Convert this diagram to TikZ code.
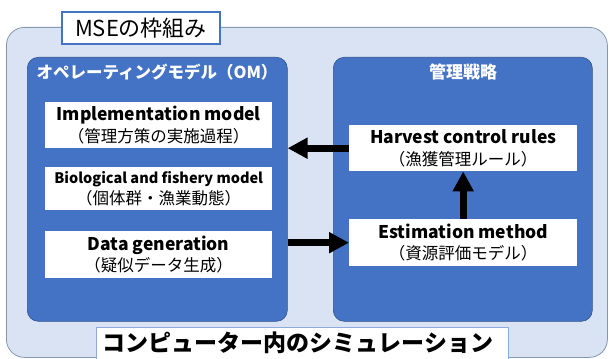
\documentclass[tikz,border=0pt]{standalone}
\usepackage{fontspec}
\setmainfont{Noto Sans CJK JP}
\usetikzlibrary{arrows.meta,positioning}
\definecolor{outerfill}{HTML}{DAE3F3}
\definecolor{outerline}{HTML}{8497B0}
\definecolor{mseblue}{HTML}{4472C4}
\definecolor{msedark}{HTML}{2F528F}
\definecolor{labelline}{HTML}{8FAADC}
\newcommand{\modelname}[1]{{\fontsize{17.5}{21.5}\selectfont\bfseries #1}}
\tikzset{
  framebox/.style={
    draw=outerline, fill=outerfill, line width=0.8pt,
    rounded corners=18pt, anchor=north west,
    minimum width=601pt, minimum height=330pt
  },
  groupbox/.style={
    draw=msedark, fill=mseblue, line width=0.6pt,
    rounded corners=11pt, anchor=north west,
    minimum width=260pt, minimum height=264pt
  },
  grouptitle/.style={
    text=white, font=\fontsize{16.5}{18}\selectfont\bfseries, inner sep=0pt
  },
  modelbox/.style={
    fill=white, anchor=north west, inner sep=0pt, align=center,
    minimum width=227pt, minimum height=46pt,
    font=\fontsize{16.5}{21.5}\selectfont
  },
  bigarrow/.style={
    draw=black, line width=7pt,
    -{Triangle[length=20pt,width=20pt]}
  }
}
\begin{document}
\begin{tikzpicture}[x=1pt,y=-1pt]
\useasboundingbox (0,0) rectangle (609,358);

% outer frame and its title
\node[framebox] (frame) at (6,27) {};
\node[draw=mseblue, fill=white, line width=1.2pt, inner sep=0pt,
      minimum width=158pt, minimum height=32pt,
      font=\fontsize{22}{24}\selectfont] (title) at (141,28) {MSEの枠組み};

% operating model
\node[groupbox] (om) at (27,57) {};
\node[grouptitle] (omtitle) at (157,72) {オペレーティングモデル（OM）};
\node[modelbox] (impl) at (45,102)
  {\modelname{Implementation model}\\（管理方策の実施過程）};
\node[modelbox, minimum height=43pt] (bio) at (45,167)
  {{\fontsize{14.5}{16}\selectfont\bfseries Biological and fishery model}\\（個体群・漁業動態）};
\node[modelbox, minimum height=47pt] (data) at (45,231)
  {\modelname{Data generation}\\（疑似データ生成）};

% management strategy
\node[groupbox, minimum width=259pt] (ms) at (333,57) {};
\node[grouptitle, font=\fontsize{17}{18}\selectfont\bfseries] (mstitle) at (463,72) {管理戦略};
\node[modelbox, minimum width=228pt] (hcr) at (349,125)
  {\modelname{Harvest control rules}\\（漁獲管理ルール）};
\node[modelbox, minimum width=228pt, minimum height=47pt] (est) at (349,219)
  {\modelname{Estimation method}\\（資源評価モデル）};

% arrows
\draw[bigarrow] (hcr.west) -- (hcr.west -| om.east);
\draw[bigarrow] (om.east |- est.west) -- (est.west);
\draw[bigarrow] (est.north) -- (hcr.south);

% bottom label
\node[draw=labelline, fill=white, line width=0.8pt, anchor=north west,
      minimum width=412pt, minimum height=40pt, inner sep=0pt] (sim) at (96,327) {};
\node[font=\fontsize{23}{26}\selectfont\bfseries] (simtext) at (298,343)
  {コンピューター内のシミュレーション};
\end{tikzpicture}
\end{document}
